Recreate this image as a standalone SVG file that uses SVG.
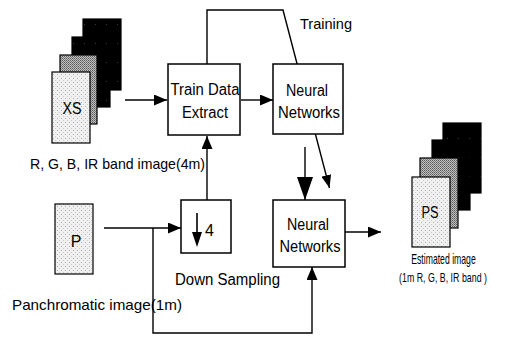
<svg xmlns="http://www.w3.org/2000/svg" width="523" height="338" viewBox="0 0 523 338">
<style>
text{font-family:"Liberation Sans",Arial,sans-serif;fill:#000}
.box{fill:#fff;stroke:#000;stroke-width:1.5}
.sheet{stroke:#000;stroke-width:1.2}
.ln{fill:none;stroke:#000;stroke-width:1.4}
</style>
<defs>
<pattern id="light" width="4" height="4" patternUnits="userSpaceOnUse">
<rect width="4" height="4" fill="#f0f0f0"/><rect x="1" y="2" width="1" height="1" fill="#b0b0b0"/><rect x="3" y="0" width="1" height="1" fill="#cccccc"/>
</pattern>
<pattern id="mid" width="2" height="2" patternUnits="userSpaceOnUse">
<rect width="2" height="2" fill="#c0c0c0"/><rect width="1" height="1" fill="#5a5a5a"/><rect x="1" y="1" width="1" height="1" fill="#7a7a7a"/>
</pattern>
<pattern id="dark" width="11" height="19" patternUnits="userSpaceOnUse">
<rect width="11" height="19" fill="#000"/><rect x="7" y="5" width="1" height="1" fill="#3a3a3a"/>
</pattern>
<marker id="ah" viewBox="0 0 13 11" refX="13" refY="5.5" markerWidth="13" markerHeight="11" markerUnits="userSpaceOnUse" orient="auto">
<path d="M0,0 L13,5.5 L0,11 Z" fill="#000"/>
</marker>
<marker id="ahs" viewBox="0 0 13 10" refX="13" refY="5" markerWidth="13" markerHeight="10" markerUnits="userSpaceOnUse" orient="auto">
<path d="M0,0 L13,5 L0,10 Z" fill="#000"/>
</marker>
<marker id="ahb" viewBox="0 0 23 16" refX="23" refY="8" markerWidth="23" markerHeight="16" markerUnits="userSpaceOnUse" orient="auto">
<path d="M0,0 L23,8 L0,16 Z" fill="#000"/>
</marker>
</defs>

<g id="connectors">
<path class="ln" d="M207,64 L207,10 L283,10 L329.5,188" marker-end="url(#ahs)"/>
<path class="ln" d="M125,100 L167,100" marker-end="url(#ah)"/>
<path class="ln" d="M241,100 L273,100" marker-end="url(#ah)"/>
<path class="ln" d="M305,147 L305,200" marker-end="url(#ahb)"/>
<path class="ln" d="M345,232 L381,232" marker-end="url(#ah)"/>
<path class="ln" d="M104,228 L181,228" marker-end="url(#ah)"/>
<path class="ln" d="M207,200 L207,136" marker-end="url(#ah)"/>
<path class="ln" d="M153,228 L153,333 L312,333 L312,267" marker-end="url(#ah)"/>
</g>

<g id="xs-stack">
<rect class="sheet" x="83" y="19" width="38" height="71" fill="url(#dark)"/>
<rect class="sheet" x="72" y="37" width="38" height="70" fill="url(#dark)"/>
<rect class="sheet" x="60" y="55" width="37" height="69" fill="url(#mid)"/>
<rect class="sheet" x="52" y="72" width="38" height="71" fill="url(#light)"/>
<text x="72" y="114" font-size="16" text-anchor="middle" textLength="19" lengthAdjust="spacingAndGlyphs">XS</text>
<text x="30" y="169" font-size="15" textLength="175" lengthAdjust="spacingAndGlyphs">R, G, B, IR band image(4m)</text>
</g>

<g id="train-data-extract">
<rect class="box" x="168" y="64" width="72" height="71"/>
<text x="205" y="95" font-size="16" text-anchor="middle" textLength="69" lengthAdjust="spacingAndGlyphs">Train Data</text>
<text x="205" y="118" font-size="16" text-anchor="middle" textLength="46" lengthAdjust="spacingAndGlyphs">Extract</text>
</g>

<g id="neural-networks-1">
<rect class="box" x="273" y="64" width="70" height="70"/>
<text x="307" y="96" font-size="16" text-anchor="middle" textLength="42" lengthAdjust="spacingAndGlyphs">Neural</text>
<text x="309" y="118" font-size="16" text-anchor="middle" textLength="62" lengthAdjust="spacingAndGlyphs">Networks</text>
</g>

<g id="training-label">
<text x="300" y="29" font-size="15" textLength="52" lengthAdjust="spacingAndGlyphs">Training</text>
</g>

<g id="pan-image">
<rect class="sheet" x="55" y="204" width="38" height="70" fill="url(#light)"/>
<text x="76" y="247" font-size="16" text-anchor="middle">P</text>
<text x="12" y="310" font-size="15" textLength="170" lengthAdjust="spacingAndGlyphs">Panchromatic image(1m)</text>
</g>

<g id="down-sampling">
<rect class="box" x="181" y="200" width="50" height="53"/>
<path d="M197,213 L197,236" stroke="#000" stroke-width="1.6"/>
<path d="M192,232 L197,247 L202,232 Z" fill="#000"/>
<text x="205" y="236" font-size="16">4</text>
<text x="175" y="285" font-size="16" textLength="105" lengthAdjust="spacingAndGlyphs">Down Sampling</text>
</g>

<g id="neural-networks-2">
<rect class="box" x="273" y="200" width="72" height="67"/>
<text x="308" y="230" font-size="16" text-anchor="middle" textLength="42" lengthAdjust="spacingAndGlyphs">Neural</text>
<text x="310" y="252" font-size="16" text-anchor="middle" textLength="61" lengthAdjust="spacingAndGlyphs">Networks</text>
</g>

<g id="ps-stack">
<rect class="sheet" x="443" y="123" width="38" height="70" fill="url(#dark)"/>
<rect class="sheet" x="432" y="140" width="38" height="70" fill="url(#dark)"/>
<rect class="sheet" x="420" y="158" width="38" height="70" fill="url(#mid)"/>
<rect class="sheet" x="412" y="177" width="38" height="70" fill="url(#light)"/>
<text x="430" y="218" font-size="16" text-anchor="middle" textLength="17" lengthAdjust="spacingAndGlyphs">PS</text>
<text transform="translate(443.5,264) scale(0.62,1)" x="0" y="0" font-size="14" text-anchor="middle">Estimated image</text>
<text transform="translate(443,282) scale(0.68,1)" x="0" y="0" font-size="13" text-anchor="middle">(1m R, G, B, IR band )</text>
</g>
</svg>
